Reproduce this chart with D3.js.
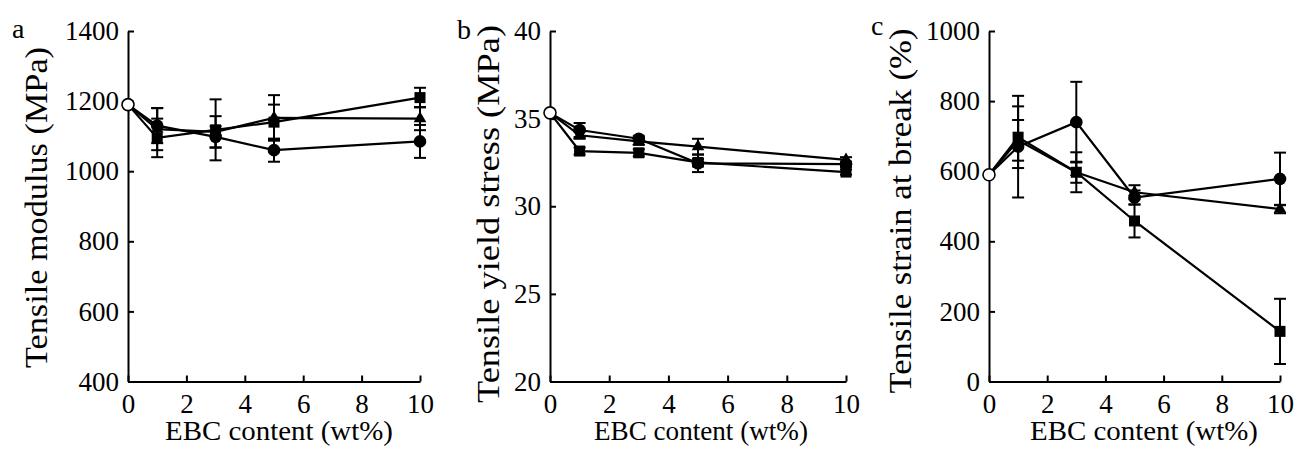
<!DOCTYPE html>
<html>
<head>
<meta charset="utf-8">
<script src="https://cdn.jsdelivr.net/npm/d3@7"></script>
<style>
  body { margin: 0; background: #fff; }
  svg { display: block; }
  text { font-family: 'Liberation Serif', 'Times New Roman', serif; }
</style>
</head>
<body>
<div id="chart"></div>
<script>

// EBC loading, wt%
var ebcContent = [0, 1, 3, 5, 10];
var xTickValues = [0, 2, 4, 6, 8, 10];

// a: tensile modulus (MPa)
var modulusSquare = [1190, 1095, 1118, 1140, 1210];
var modulusSquareErr = [0, 55, 87, 50, 28];
var modulusTriangle = [1190, 1120, 1112, 1152, 1150];
var modulusTriangleErr = [0, 60, 45, 65, 33];
var modulusCircle = [1190, 1130, 1098, 1060, 1085];
var modulusCircleErr = [0, 50, 30, 33, 47];
var modulusTicks = [400, 600, 800, 1000, 1200, 1400];

// b: tensile yield stress (MPa)
var yieldSquare = [35.33, 33.15, 33.05, 32.5, 31.95];
var yieldSquareErr = [0, 0.2, 0.2, 0.2, 0.15];
var yieldTriangle = [35.33, 34.05, 33.7, 33.4, 32.65];
var yieldTriangleErr = [0, 0.2, 0.2, 0.45, 0.15];
var yieldCircle = [35.33, 34.35, 33.85, 32.45, 32.4];
var yieldCircleErr = [0, 0.4, 0.15, 0.5, 0.15];
var yieldTicks = [20, 25, 30, 35, 40];

// c: tensile strain at break (%)
var strainSquare = [590, 697, 597, 458, 143];
var strainSquareErr = [0, 88, 30, 47, 93];
var strainTriangle = [590, 688, 597, 540, 492];
var strainTriangleErr = [0, 58, 57, 20, 12];
var strainCircle = [590, 670, 740, 525, 578];
var strainCircleErr = [0, 145, 115, 20, 75];
var strainTicks = [0, 200, 400, 600, 800, 1000];

var panelLetters = ["a", "b", "c"];
var yTitles = ["Tensile modulus (MPa)", "Tensile yield stress (MPa)", "Tensile strain at break (%)"];
var xTitle = "EBC content (wt%)";

//--------------------------------------------------------------------------
// layout of the three panels (pixels)
var width = 1300, height = 453,
    plotTop = 31, plotBottom = 381.5;

var panels = [
  { left: 128, right: 420, ticks: modulusTicks,
    series: [[modulusSquare, modulusSquareErr, "square"],
             [modulusTriangle, modulusTriangleErr, "triangle"],
             [modulusCircle, modulusCircleErr, "circle"]],
    letter: [12, 38], yTitle: [47, 207.5, 321], xTitle: [279, 228] },
  { left: 550, right: 846, ticks: yieldTicks,
    series: [[yieldSquare, yieldSquareErr, "square"],
             [yieldTriangle, yieldTriangleErr, "triangle"],
             [yieldCircle, yieldCircleErr, "circle"]],
    letter: [457, 39], yTitle: [499, 214, 378], xTitle: [701, 214] },
  { left: 989, right: 1280, ticks: strainTicks,
    series: [[strainSquare, strainSquareErr, "square"],
             [strainTriangle, strainTriangleErr, "triangle"],
             [strainCircle, strainCircleErr, "circle"]],
    letter: [871, 35], yTitle: [911, 211, 365], xTitle: [1144, 228] }
];

var fontFamily = "'Liberation Serif', 'Times New Roman', serif";

var svg = d3.select("#chart").append("svg")
    .attr("width", width)
    .attr("height", height);

var lineGen = d3.line();

panels.forEach(function(p, pi) {
  var x = d3.scaleLinear().domain([0, 10]).range([p.left, p.right]);
  var y = d3.scaleLinear().domain(d3.extent(p.ticks)).range([plotBottom, plotTop]);

  var g = svg.append("g");

  // axes, ticks point inward
  var xAxis = g.append("g")
      .attr("transform", "translate(0," + plotBottom + ")")
      .call(d3.axisBottom(x).tickValues(xTickValues).tickSizeInner(-6)
        .tickSizeOuter(0).tickPadding(12).tickFormat(d3.format("d")));
  var yAxis = g.append("g")
      .attr("transform", "translate(" + p.left + ",0)")
      .call(d3.axisLeft(y).tickValues(p.ticks).tickSizeInner(-6)
        .tickSizeOuter(0).tickPadding(9).tickFormat(d3.format("d")));

  [xAxis, yAxis].forEach(function(ax) {
    ax.attr("font-family", null).attr("font-size", null);
    ax.select(".domain").attr("stroke", "#000").attr("stroke-width", 2);
    ax.selectAll(".tick line").attr("stroke", "#000").attr("stroke-width", 2);
    ax.selectAll(".tick text")
        .attr("fill", "#000")
        .style("font-family", fontFamily)
        .style("font-size", "27px");
  });

  // connecting lines
  p.series.forEach(function(s) {
    var pts = ebcContent.map(function(e, i) { return [x(e), y(s[0][i])]; });
    g.append("path")
        .attr("d", lineGen(pts))
        .attr("fill", "none")
        .attr("stroke", "#000")
        .attr("stroke-width", 2.2);
  });

  // error bars
  p.series.forEach(function(s) {
    ebcContent.forEach(function(e, i) {
      if (!s[1][i]) return;
      var cx = x(e), hi = y(s[0][i] + s[1][i]), lo = y(s[0][i] - s[1][i]);
      g.append("line").attr("x1", cx).attr("x2", cx).attr("y1", hi).attr("y2", lo)
          .attr("stroke", "#000").attr("stroke-width", 2);
      [hi, lo].forEach(function(yy) {
        g.append("line").attr("x1", cx - 6).attr("x2", cx + 6).attr("y1", yy).attr("y2", yy)
            .attr("stroke", "#000").attr("stroke-width", 2);
      });
    });
  });

  // markers
  p.series.forEach(function(s) {
    ebcContent.forEach(function(e, i) {
      if (i === 0) return;
      var cx = x(e), cy = y(s[0][i]);
      if (s[2] === "circle") {
        g.append("circle").attr("cx", cx).attr("cy", cy).attr("r", 6.3).attr("fill", "#000");
      } else if (s[2] === "square") {
        g.append("rect").attr("x", cx - 5.5).attr("y", cy - 5.5)
            .attr("width", 11).attr("height", 11).attr("fill", "#000");
      } else {
        g.append("path").attr("d", d3.symbol(d3.symbolTriangle, 70)())
            .attr("transform", "translate(" + cx + "," + cy + ")")
            .attr("fill", "#000");
      }
    });
  });

  // neat polymer point, shared by all series
  g.append("circle")
      .attr("cx", x(ebcContent[0]))
      .attr("cy", y(p.series[0][0][0]))
      .attr("r", 6)
      .attr("fill", "#fff")
      .attr("stroke", "#000")
      .attr("stroke-width", 1.6);

  // titles
  g.append("text")
      .attr("x", p.xTitle[0])
      .attr("y", 440)
      .attr("text-anchor", "middle")
      .style("font-size", "27px")
      .attr("textLength", p.xTitle[1])
      .attr("lengthAdjust", "spacingAndGlyphs")
      .text(xTitle);

  g.append("text")
      .attr("transform", "translate(" + p.yTitle[0] + "," + p.yTitle[1] + ") rotate(-90)")
      .attr("text-anchor", "middle")
      .style("font-size", "31px")
      .attr("textLength", p.yTitle[2])
      .attr("lengthAdjust", "spacingAndGlyphs")
      .text(yTitles[pi]);

  g.append("text")
      .attr("x", p.letter[0])
      .attr("y", p.letter[1])
      .style("font-size", "28px")
      .text(panelLetters[pi]);
});

</script>
</body>
</html>
